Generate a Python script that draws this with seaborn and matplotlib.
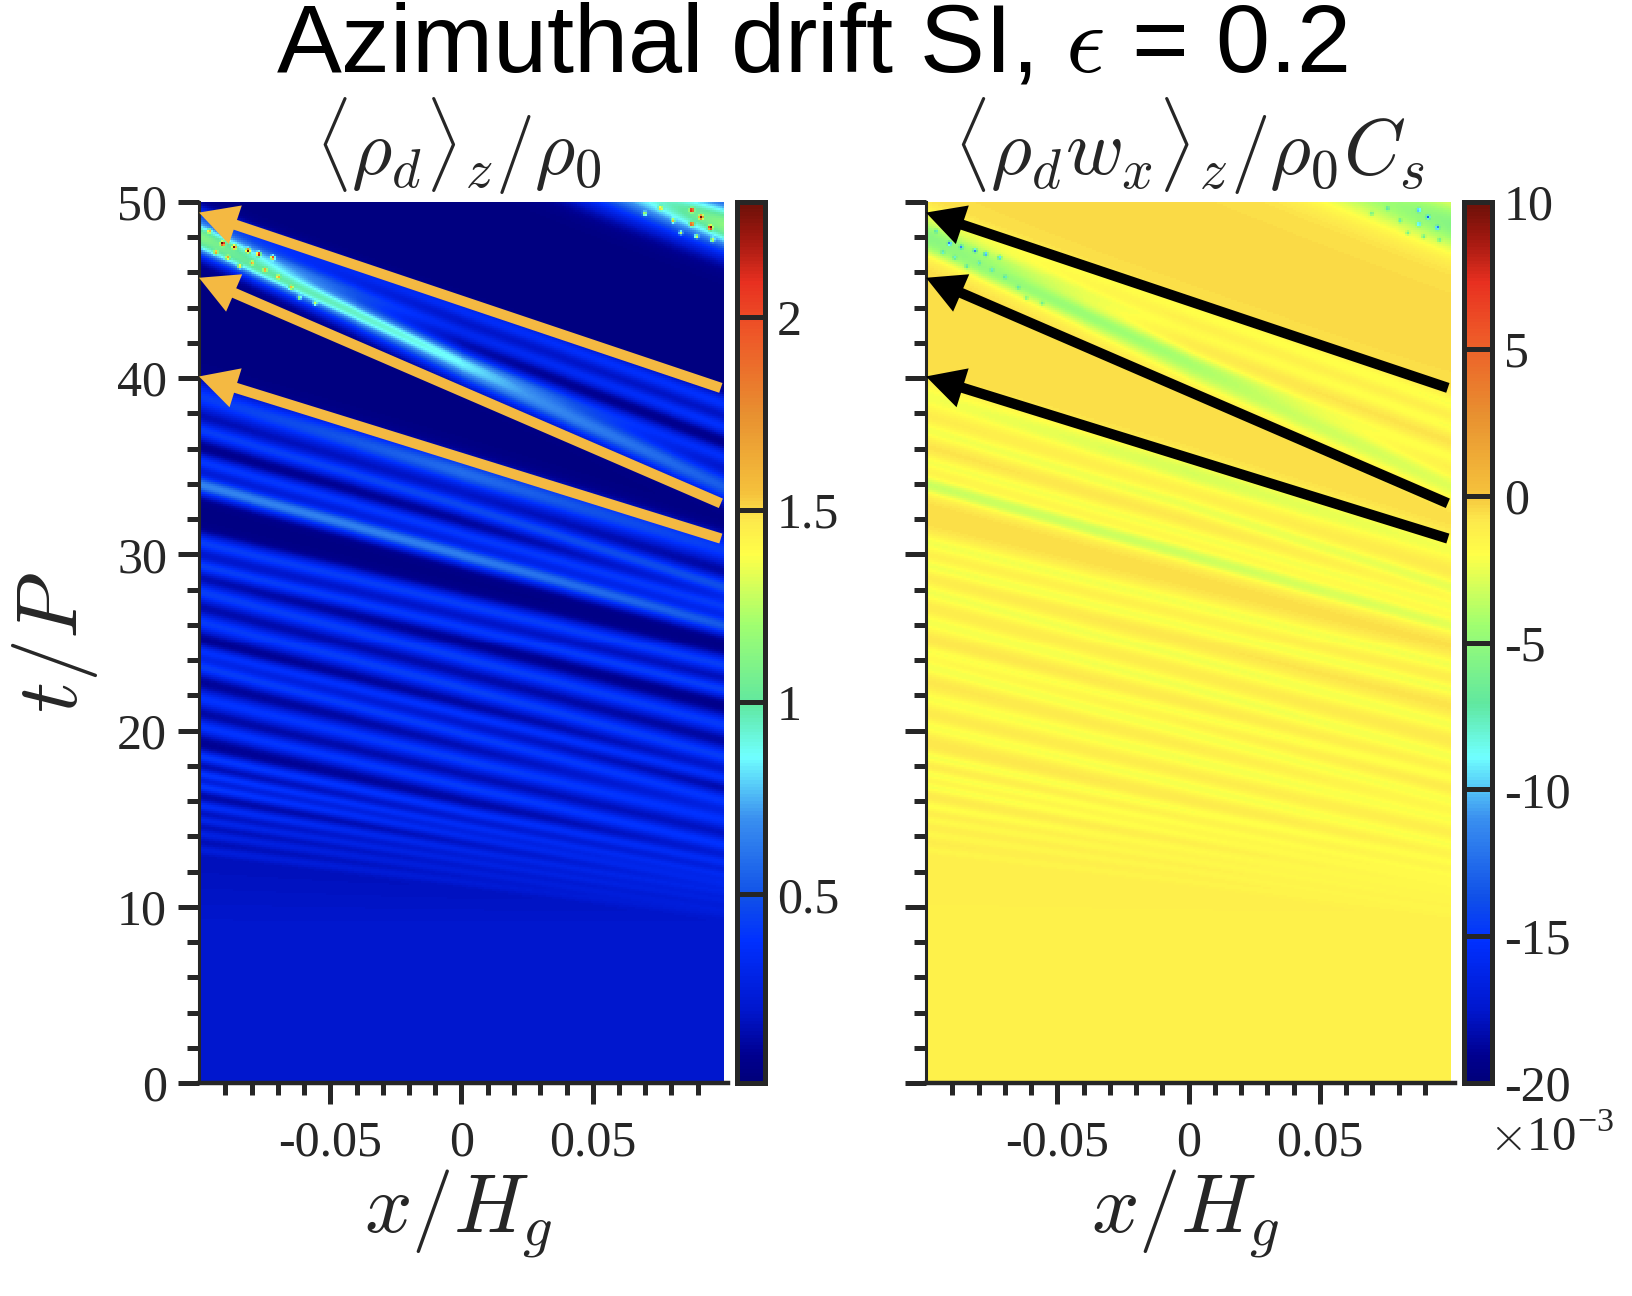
import numpy as np
import matplotlib
matplotlib.use("Agg")
import matplotlib.pyplot as plt
from matplotlib.colors import LinearSegmentedColormap
from matplotlib.ticker import FixedLocator
import seaborn as sns

# bands: t at left edge / centre / right edge, half width, peak density
band_t_left = [59.3, 49.3, 48.4, 47.5, 47.9, 48.3, 39.0, 37.1, 35.3, 34.0, 30.7, 29.4, 27.9, 26.2, 24.5, 23.6,
               21.8, 20.2, 18.5, 17.5, 16.8, 15.7, 14.9, 14.1, 13.2]
band_t_mid = [54.05, 43.9, 42.7, 41.2, 40.7, 42.0, 34.7, 32.8, 31.2, 30.0, 27.2, 25.9, 24.1, 22.4, 20.9, 19.8,
              18.3, 16.8, 15.4, 14.6, 14.0, 13.2, 12.6, 12.0, 11.4]
band_t_right = [48.8, 38.6, 37.3, 35.6, 33.9, 38.0, 30.3, 28.2, 27.1, 26.0, 23.7, 22.3, 20.3, 18.5, 17.3, 16.0,
                14.9, 13.5, 12.5, 11.8, 11.3, 10.8, 10.3, 9.8, 9.5]
band_width = [1.5, 0.55, 0.5, 0.5, 0.85, 1.1, 0.85, 0.55, 0.48, 0.55, 0.55, 0.48, 0.58, 0.58, 0.4, 0.5,
              0.55, 0.48, 0.36, 0.3, 0.3, 0.3, 0.26, 0.26, 0.24]
band_peak_left = [0.0, 0.2, 0.18, 0.16, 0.5, 0.45, 0.38, 0.38, 0.36, 0.62, 0.38, 0.38, 0.38, 0.36, 0.3, 0.36,
                  0.32, 0.32, 0.32, 0.3, 0.3, 0.24, 0.17, 0.13, 0.09]
band_peak_mid = [0.22, 0.32, 0.28, 0.22, 0.7, 0.0, 0.55, 0.42, 0.36, 0.6, 0.38, 0.36, 0.38, 0.38, 0.32, 0.36,
                 0.36, 0.34, 0.28, 0.24, 0.21, 0.17, 0.13, 0.09, 0.06]
band_peak_right = [1.1, 0.34, 0.34, 0.32, 0.5, 0.0, 0.38, 0.45, 0.36, 0.48, 0.38, 0.38, 0.36, 0.36, 0.3, 0.32,
                   0.3, 0.28, 0.22, 0.17, 0.14, 0.11, 0.08, 0.06, 0.03]

# speckles near the top of the left panel
hot_x = [-0.0914, -0.0870, -0.0818, -0.0774, -0.0721, 0.0882, 0.0917, 0.0882, 0.0952,
         -0.0965, -0.0940, -0.0895, -0.0850, -0.0800, -0.0750, -0.0700, -0.0650, -0.0620, -0.0560,
         0.0700, 0.0760, 0.0810, 0.0840, 0.0900, 0.0960]
hot_t = [47.7, 47.5, 47.3, 47.1, 46.9, 49.6, 49.2, 48.8, 48.6,
         48.4, 47.2, 46.9, 46.4, 46.6, 46.2, 45.8, 45.2, 44.6, 44.3,
         49.4, 49.7, 49.0, 48.3, 48.1, 47.9]
hot_peak = [1.8, 1.5, 1.7, 1.8, 1.5, 1.7, 1.8, 1.6, 1.9,
            0.9, 0.85, 0.8, 0.85, 0.8, 0.8, 0.75, 0.7, 0.7, 0.65,
            0.8, 0.85, 0.9, 0.8, 0.85, 0.8]

# quiet background density, by t at the left edge
base_t = [0, 9, 13, 16, 20, 25, 30, 40, 60]
base_density = [0.2, 0.2, 0.16, 0.11, 0.07, 0.055, 0.045, 0.035, 0.03]
slope_t = [0, 9, 14, 20, 30, 50]
slope_dt = [0, 0, 4, 6.5, 8, 10]

flux_offset = -0.4
flux_per_density = -4.5

arrow_tip_t = [49.4, 45.7, 40.1]
arrow_tail_t = [39.45, 32.9, 30.9]
arrow_tail_x = 0.0988

x_major = [-0.05, 0, 0.05]
x_major_labels = ["-0.05", "0", "0.05"]
x_minor = [-0.09, -0.08, -0.07, -0.06, -0.04, -0.03, -0.02, -0.01, 0.01, 0.02, 0.03, 0.04, 0.06, 0.07, 0.08, 0.09]
t_major = [0, 10, 20, 30, 40, 50]
t_minor = [t for t in range(0, 51, 2) if t % 10]
density_ticks = [0.5, 1, 1.5, 2]
flux_ticks = [-20, -15, -10, -5, 0, 5, 10]

cmap_stops = [(0.0, "#00007a"), (0.03, "#000090"), (0.08, "#0016cc"), (0.16, "#0030ff"), (0.21, "#1050e8"),
              (0.3, "#3a90f0"), (0.37, "#70ffff"), (0.43, "#60e8a0"), (0.52, "#a0ff70"), (0.6, "#ffff48"),
              (0.64, "#fde84c"), (0.67, "#f5c23c"), (0.76, "#e89030"), (0.85, "#ee5828"), (0.91, "#e83020"),
              (0.96, "#a01810"), (1.0, "#6c1008")]
jet_soft = LinearSegmentedColormap.from_list("jet_soft", cmap_stops)

nx, nt = 265, 441
x_grid = np.linspace(-0.1, 0.1, nx)
t_grid = np.linspace(0, 50, nt)
X, T = np.meshgrid(x_grid, t_grid)
frac = (X + 0.1) / 0.2

density = np.interp(T + frac * np.interp(T, slope_t, slope_dt), base_t, base_density)
for i in range(len(band_t_left)):
    centre = np.interp(frac, [0, 0.5, 1], [band_t_left[i], band_t_mid[i], band_t_right[i]])
    peak = np.interp(frac, [0, 0.5, 1], [band_peak_left[i], band_peak_mid[i], band_peak_right[i]])
    density += peak * np.exp(-((T - centre) / band_width[i]) ** 2)
for hx, ht, hp in zip(hot_x, hot_t, hot_peak):
    density += hp * np.exp(-((X - hx) / 0.0007) ** 2 - ((T - ht) / 0.11) ** 2)
flux = flux_offset + flux_per_density * density

sns.set_style("ticks")
plt.rcParams["font.family"] = ["Liberation Serif", "DejaVu Serif"]
plt.rcParams["mathtext.fontset"] = "cm"
ink = "#262626"
W, H = 1632, 1296

fig = plt.figure(figsize=(W / 100, H / 100), dpi=100, facecolor="white")


def px_axes(left, top, right, bottom):
    return fig.add_axes([left / W, 1 - bottom / H, (right - left) / W, (bottom - top) / H])


def cx(x):
    return (x + 0.1) / 0.2 * nx


def ct(t):
    return t / 50 * nt


def panel(left, field, vmin, vmax, cticks, clabels, arrow_color):
    ax = px_axes(left, 202, left + 529, 1083)
    cax = px_axes(left + 537.5, 202, left + 565.5, 1083)
    sns.heatmap(field, ax=ax, cbar_ax=cax, cmap=jet_soft, vmin=vmin, vmax=vmax,
                xticklabels=False, yticklabels=False, rasterized=True)
    ax.set_xlim(0, nx * 529 / 525)
    ax.set_ylim(0, nt)
    for s in ["top", "right"]:
        ax.spines[s].set_visible(False)
    for s in ["left", "bottom"]:
        ax.spines[s].set_visible(True)
        ax.spines[s].set_color(ink)
    ax.spines["left"].set_linewidth(2.2)
    ax.spines["bottom"].set_linewidth(3.2)
    ax.set_xticks(cx(np.array(x_major)))
    ax.set_xticklabels(x_major_labels)
    ax.xaxis.set_minor_locator(FixedLocator(cx(np.array(x_minor))))
    ax.yaxis.set_major_locator(FixedLocator(ct(np.array(t_major))))
    ax.yaxis.set_minor_locator(FixedLocator(ct(np.array(t_minor))))
    ax.tick_params(which="major", direction="out", length=15, width=3.6, color=ink, labelsize=36,
                   labelcolor=ink, bottom=True, left=True)
    ax.tick_params(axis="x", which="major", pad=12)
    ax.tick_params(axis="y", which="major", pad=8)
    ax.tick_params(which="minor", direction="out", length=8.5, width=3.6, color=ink, bottom=True, left=True)
    ax.set_xlabel(r"$x/H_g$", fontsize=60, color=ink, labelpad=0, x=0.49)

    for tip, tail in zip(arrow_tip_t, arrow_tail_t):
        ax.annotate("", xy=(cx(-0.1), ct(tip)), xytext=(cx(arrow_tail_x), ct(tail)), annotation_clip=False,
                    arrowprops=dict(arrowstyle="-|>,head_length=16,head_width=8.5", mutation_scale=1,
                                    fc=arrow_color, ec=arrow_color, lw=7.4, shrinkA=0, shrinkB=0,
                                    capstyle="butt", joinstyle="miter"))

    cbar = ax.collections[0].colorbar
    cbar.set_ticks(cticks)
    cbar.set_ticklabels(clabels)
    cbar.outline.set_linewidth(3.6)
    cbar.outline.set_edgecolor(ink)
    cax.set_axisbelow(False)
    cax.tick_params(axis="y", direction="in", length=20, width=3.6, color=ink, labelsize=36,
                    labelcolor=ink, right=True, pad=9)
    return ax


left_ax = panel(199, density, 0.01, 2.3, density_ticks, ["0.5", "1", "1.5", "2"], "#f4b942")
left_ax.set_yticklabels([str(t) for t in t_major])
left_ax.set_ylabel(r"$t/P$", fontsize=62, color=ink, labelpad=12)
right_ax = panel(926, flux, -20, 10, flux_ticks, ["-20", "-15", "-10", "-5", "0", "5", "10"], "black")
right_ax.tick_params(axis="y", which="major", labelleft=False)

fig.text(812 / W, 1 - 46 / H, r"Azimuthal drift SI, $\epsilon$ = 0.2", family="Liberation Sans", fontsize=70,
         color="black", ha="center", va="center")
fig.text(458 / W, 1 - 146 / H, r"$\langle\rho_d\rangle_z/\rho_0$", fontsize=56, color=ink, ha="center", va="center")
fig.text(1189 / W, 1 - 146 / H, r"$\langle\rho_d w_x\rangle_z/\rho_0 C_s$", fontsize=57, color=ink,
         ha="center", va="center")
fig.text(1552 / W, 1 - 1138 / H, r"$\times$10$^{\mathregular{-3}}$", fontsize=35, color=ink, ha="center", va="center")

fig.savefig("out.png", dpi=100)
